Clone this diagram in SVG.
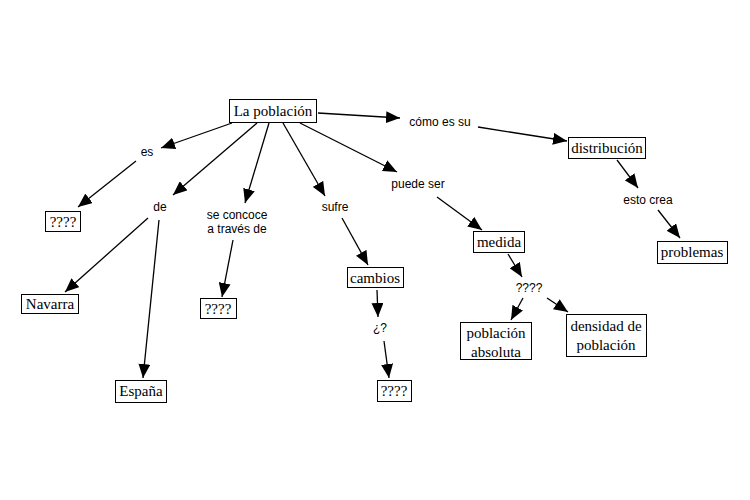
<svg xmlns="http://www.w3.org/2000/svg" width="750" height="500" viewBox="0 0 750 500">
<style>
.box{fill:#fff;stroke:#000;stroke-width:1}
.nt{font-family:"Liberation Serif","Times New Roman",serif;font-size:15px;fill:#000;text-anchor:middle}
.lt{font-family:"Liberation Sans",Arial,sans-serif;font-size:12px;fill:#000;text-anchor:middle}
.c line{stroke:#000;stroke-width:1.3;marker-end:url(#ah)}
</style>
<defs>
<marker id="ah" markerUnits="userSpaceOnUse" markerWidth="14" markerHeight="12" viewBox="0 0 14 12" refX="14" refY="6" orient="auto">
<path d="M0,0 L14,6 L0,12 z" fill="#000"/>
</marker>
</defs>
<rect width="750" height="500" fill="#fff"/>
<g class="c" id="connectors">
<line x1="232" y1="123" x2="161" y2="148"/>
<line x1="136" y1="161" x2="78" y2="207"/>
<line x1="257" y1="123" x2="173" y2="195"/>
<line x1="269" y1="123" x2="245" y2="203"/>
<line x1="283" y1="123" x2="325" y2="196"/>
<line x1="300" y1="123" x2="397" y2="172"/>
<line x1="318" y1="113" x2="400" y2="118"/>
<line x1="478" y1="127" x2="567" y2="141"/>
<line x1="617" y1="160" x2="638" y2="188"/>
<line x1="658" y1="210" x2="680" y2="238"/>
<line x1="437" y1="197" x2="482" y2="230"/>
<line x1="342" y1="218" x2="368" y2="265"/>
<line x1="148" y1="218" x2="65" y2="292"/>
<line x1="159" y1="220" x2="143" y2="378"/>
<line x1="233" y1="240" x2="222" y2="297"/>
<line x1="377" y1="290" x2="378" y2="317"/>
<line x1="384" y1="341" x2="389" y2="378"/>
<line x1="508" y1="254" x2="522" y2="277"/>
<line x1="523" y1="298" x2="511" y2="320"/>
<line x1="547" y1="298" x2="568" y2="312"/>
</g>
<g id="n-poblacion"><rect class="box" x="229.5" y="99.5" width="87" height="23"/><text class="nt" x="273" y="115.5">La población</text></g>
<g id="l-es"><text class="lt" x="147" y="156">es</text></g>
<g id="n-q1"><rect class="box" x="45.5" y="211.5" width="35" height="20"/><text class="nt" x="63" y="226.5">????</text></g>
<g id="l-de"><text class="lt" x="160" y="211">de</text></g>
<g id="l-seconcoce"><text class="lt" x="237" y="219">se concoce</text><text class="lt" x="237" y="233">a través de</text></g>
<g id="l-sufre"><text class="lt" x="335" y="211">sufre</text></g>
<g id="l-puedeser"><text class="lt" x="418" y="188">puede ser</text></g>
<g id="l-comoessu"><text class="lt" x="440" y="126">cómo es su</text></g>
<g id="n-distribucion"><rect class="box" x="568.5" y="137.5" width="77" height="21"/><text class="nt" x="607" y="153">distribución</text></g>
<g id="l-estocrea"><text class="lt" x="648" y="204">esto crea</text></g>
<g id="n-problemas"><rect class="box" x="657.5" y="241.5" width="70" height="22"/><text class="nt" x="692" y="257">problemas</text></g>
<g id="n-medida"><rect class="box" x="473.5" y="231.5" width="51" height="21"/><text class="nt" x="499" y="247">medida</text></g>
<g id="l-q"><text class="lt" x="529" y="292">????</text></g>
<g id="n-absoluta"><rect class="box" x="460.5" y="322.5" width="71" height="37"/><text class="nt" x="496" y="338">población</text><text class="nt" x="496" y="357">absoluta</text></g>
<g id="n-densidad"><rect class="box" x="566.5" y="314.5" width="80" height="42"/><text class="nt" x="606" y="331">densidad de</text><text class="nt" x="606" y="350">población</text></g>
<g id="n-cambios"><rect class="box" x="347.5" y="267.5" width="56" height="20"/><text class="nt" x="375" y="282.5">cambios</text></g>
<g id="l-inter"><text class="lt" x="380" y="332">¿?</text></g>
<g id="n-q3"><rect class="box" x="377.5" y="380.5" width="34" height="21"/><text class="nt" x="394" y="396">????</text></g>
<g id="n-navarra"><rect class="box" x="21.5" y="294.5" width="57" height="19"/><text class="nt" x="50" y="309">Navarra</text></g>
<g id="n-espana"><rect class="box" x="115.5" y="380.5" width="51" height="22"/><text class="nt" x="141" y="396">España</text></g>
<g id="n-q2"><rect class="box" x="200.5" y="298.5" width="36" height="20"/><text class="nt" x="218" y="313.5">????</text></g>
</svg>
